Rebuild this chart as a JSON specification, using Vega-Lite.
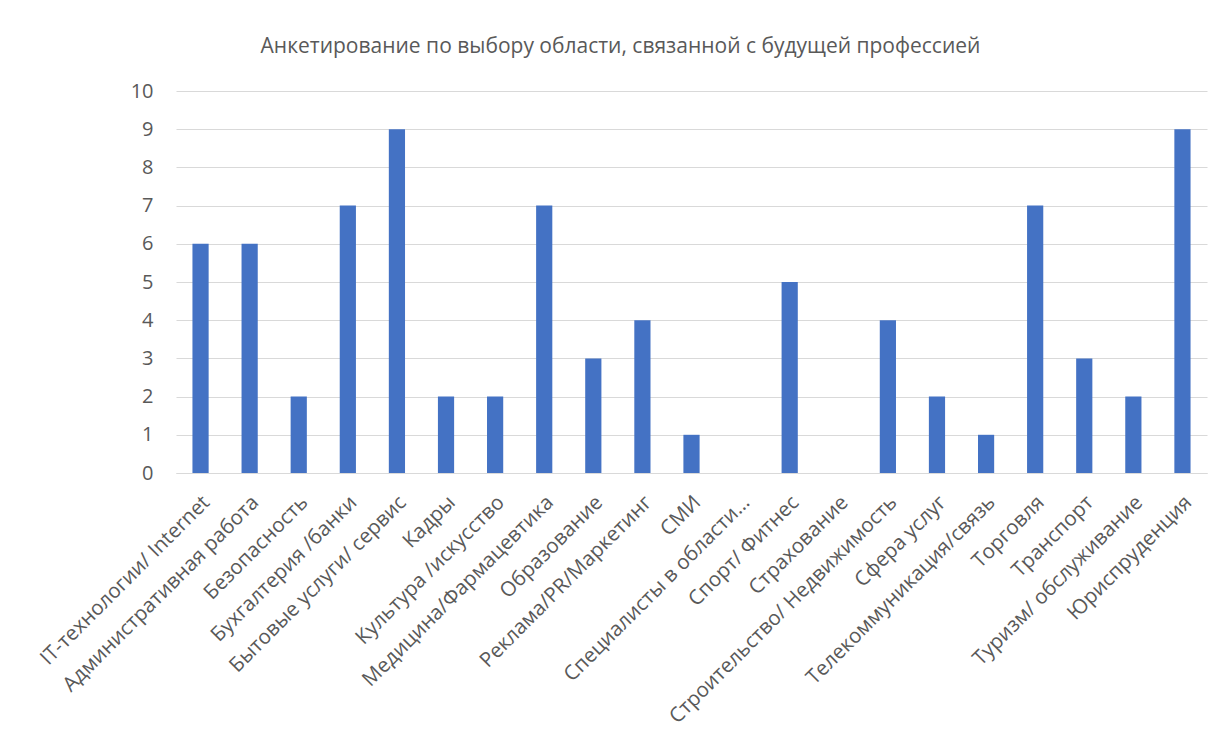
{
  "$schema": "https://vega.github.io/schema/vega-lite/v6.json",
  "autosize": "none",
  "width": 1031,
  "height": 382,
  "padding": {"left": 176, "top": 91, "right": 19, "bottom": 271},
  "background": "white",
  "title": {
    "text": "Анкетирование по выбору области, связанной с будущей профессией",
    "font": "Open Sans",
    "fontSize": 21,
    "fontWeight": "normal",
    "color": "#595959",
    "anchor": "middle",
    "frame": "group",
    "dx": -71,
    "offset": 24
  },
  "data": {
    "values": [
      {"category": "IT-технологии/ Internet", "value": 6},
      {"category": "Административная работа", "value": 6},
      {"category": "Безопасность", "value": 2},
      {"category": "Бухгалтерия /банки", "value": 7},
      {"category": "Бытовые услуги/ сервис", "value": 9},
      {"category": "Кадры", "value": 2},
      {"category": "Культура /искусство", "value": 2},
      {"category": "Медицина/Фармацевтика", "value": 7},
      {"category": "Образование", "value": 3},
      {"category": "Реклама/PR/Маркетинг", "value": 4},
      {"category": "СМИ", "value": 1},
      {"category": "Специалисты в области…", "value": 0},
      {"category": "Спорт/ Фитнес", "value": 5},
      {"category": "Страхование", "value": 0},
      {"category": "Строительство/ Недвижимость", "value": 4},
      {"category": "Сфера услуг", "value": 2},
      {"category": "Телекоммуникация/связь", "value": 1},
      {"category": "Торговля", "value": 7},
      {"category": "Транспорт", "value": 3},
      {"category": "Туризм/ обслуживание", "value": 2},
      {"category": "Юриспруденция", "value": 9}
    ]
  },
  "mark": {"type": "bar", "color": "#4472C4"},
  "encoding": {
    "x": {
      "field": "category",
      "type": "nominal",
      "sort": null,
      "title": null,
      "scale": {"paddingInner": 0.67, "paddingOuter": 0.335},
      "axis": {
        "labelAngle": -45,
        "labelAlign": "right",
        "labelBaseline": "middle",
        "labelFont": "Open Sans",
        "labelFontSize": 20.5,
        "labelColor": "#595959",
        "labelPadding": 26,
        "labelOffset": 6,
        "ticks": false,
        "domainColor": "#D9D9D9",
        "domainWidth": 1,
        "labelLimit": 500,
        "labelOverlap": false
      }
    },
    "y": {
      "field": "value",
      "type": "quantitative",
      "title": null,
      "scale": {"domain": [0, 10]},
      "axis": {
        "values": [0, 1, 2, 3, 4, 5, 6, 7, 8, 9, 10],
        "labelFont": "Open Sans",
        "labelFontSize": 20,
        "labelColor": "#595959",
        "labelPadding": 23,
        "labelOverlap": false,
        "ticks": false,
        "domain": false,
        "gridColor": "#D9D9D9",
        "gridWidth": 1
      }
    }
  },
  "config": {"view": {"stroke": null}}
}
